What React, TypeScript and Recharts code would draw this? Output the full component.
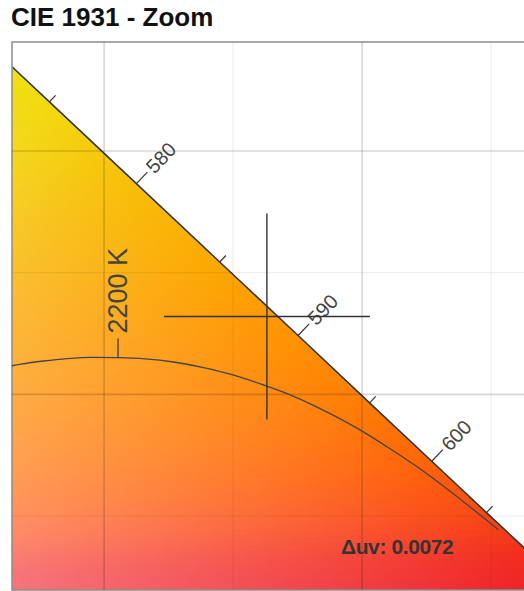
import React from 'react';
import { ComposedChart, XAxis, YAxis, Area, Line, Scatter, ReferenceLine, ReferenceArea } from 'recharts';

// spectral locus (CIE 1931 2°)
const locusNm = [570, 575, 580, 585, 590, 595, 600, 605, 610, 615];
const locusX = [0.4441, 0.4788, 0.5125, 0.5448, 0.5752, 0.6029, 0.627, 0.6482, 0.6658, 0.6801];
const locusY = [0.5547, 0.5202, 0.4866, 0.4544, 0.4242, 0.3965, 0.3725, 0.3514, 0.334, 0.3197];
const locusColors = ['#ecea12', '#f2da0e', '#f8be06', '#fca800', '#ff9200', '#ff7c02', '#ff6406', '#fa4a12', '#f22c1c', '#ee1c22'];
const tickNm = [575, 580, 585, 590, 595, 600, 605];
const labelNm = [580, 590, 600];

// planckian locus
const planckK = [2700, 2600, 2500, 2400, 2300, 2200, 2100, 2000, 1900, 1800, 1700, 1600, 1500, 1400, 1300, 1200, 1100, 1000];
const planckX = [0.4593, 0.4677, 0.4765, 0.4857, 0.4953, 0.5054, 0.516, 0.5269, 0.5381, 0.5496, 0.5609, 0.5728, 0.5857, 0.5985, 0.6116, 0.6251, 0.6388, 0.6528];
const planckY = [0.4107, 0.4124, 0.4137, 0.4147, 0.4152, 0.4151, 0.4146, 0.4133, 0.4111, 0.4081, 0.4042, 0.3995, 0.3931, 0.3858, 0.3771, 0.3674, 0.3563, 0.3444];
const cctK = 2200;

// measured point
const pointX = [0.5631];
const pointY = [0.432];
const duv = 0.0072;

const majorX = [0.5, 0.6];
const minorX = [0.55, 0.65];
const majorY = [0.4, 0.5];
const minorY = [0.35, 0.45];

const whitePoint = { x: 0.3127, y: 0.329 };

const X_MIN = 0.4643, X_MAX = 0.6643, Y_MIN = 0.3196, Y_MAX = 0.5448;
const PLOT_W = 516, PLOT_H = 548;
const MARGIN = { top: 1, right: 0, bottom: 1, left: 1 };
const FONT = '"Liberation Sans", Arial, Helvetica, sans-serif';

const locusData = locusNm.map((nm, i) => ({ nm, x: locusX[i], y: locusY[i] }));
const planckData = planckK.map((k, i) => ({ k, x: planckX[i], y: planckY[i] }));
const tickData = tickNm.map((nm) => {
  const i = locusNm.indexOf(nm);
  return { nm, x: locusX[i], y: locusY[i], labeled: labelNm.includes(nm) };
});
const cctData = [{ k: cctK, x: planckX[planckK.indexOf(cctK)], y: planckY[planckK.indexOf(cctK)] }];
const pointData = pointX.map((x, i) => ({ x, y: pointY[i] }));

// ---- fill pattern (chromaticity colours fanned around the white point) ----
const toPx = (x: number) => MARGIN.left + ((x - X_MIN) / (X_MAX - X_MIN)) * PLOT_W;
const toPy = (y: number) => MARGIN.top + ((Y_MAX - y) / (Y_MAX - Y_MIN)) * PLOT_H;
const wpx = toPx(whitePoint.x);
const wpy = toPy(whitePoint.y);

const hex = (c: string) => [1, 3, 5].map((o) => parseInt(c.slice(o, o + 2), 16));
const rgb = (a: number[]) => `rgb(${a.map((v) => Math.round(v)).join(',')})`;
const mix = (a: number[], b: number[], t: number) => a.map((v, i) => v + (b[i] - v) * t);

const polar = locusData.map((p, i) => {
  const px = toPx(p.x), py = toPy(p.y);
  return { a: (Math.atan2(wpy - py, px - wpx) * 180) / Math.PI, d: Math.hypot(px - wpx, py - wpy), c: hex(locusColors[i]) };
});

const hueAt = (a: number) => {
  if (a >= polar[0].a) return polar[0];
  const last = polar[polar.length - 1];
  if (a <= last.a) return last;
  for (let i = 0; i < polar.length - 1; i++) {
    const p = polar[i], q = polar[i + 1];
    if (a <= p.a && a >= q.a) {
      const t = (p.a - a) / (p.a - q.a);
      return { a, d: p.d + (q.d - p.d) * t, c: mix(p.c, q.c, t) };
    }
  }
  return last;
};

const PALE = hex('#ffc4c8');
const wedges: { pts: string; x2: number; y2: number; c0: string; c1: string }[] = [];
for (let a = -12; a <= 64; a += 0.5) {
  const am = a + 0.25;
  const h = hueAt(am);
  const r = 1500;
  const r0 = (a * Math.PI) / 180, r1 = ((a + 0.8) * Math.PI) / 180, rm = (am * Math.PI) / 180;
  wedges.push({
    pts: `${wpx},${wpy} ${wpx + r * Math.cos(r0)},${wpy - r * Math.sin(r0)} ${wpx + r * Math.cos(r1)},${wpy - r * Math.sin(r1)}`,
    x2: wpx + h.d * Math.cos(rm),
    y2: wpy - h.d * Math.sin(rm),
    c0: rgb(mix(h.c, PALE, 0.9)),
    c1: rgb(h.c),
  });
}

const WavelengthTick = (props: any) => {
  const { cx, cy, payload } = props;
  const nx = 0.69, ny = -0.724;
  const len = payload.labeled ? 16 : 9;
  const tx = cx + nx * 19, ty = cy + ny * 19;
  return (
    <g>
      <line x1={cx} y1={cy} x2={cx + nx * len} y2={cy + ny * len} stroke="#333" strokeWidth={1.2} />
      {payload.labeled && (
        <text x={tx} y={ty} transform={`rotate(-46.4 ${tx} ${ty})`} fontSize={20} fill="#444" dominantBaseline="central" fontFamily={FONT}>
          {payload.nm}
        </text>
      )}
    </g>
  );
};

const CctTick = (props: any) => {
  const { cx, cy, payload } = props;
  const ty = cy - 24;
  return (
    <g>
      <line x1={cx} y1={cy} x2={cx} y2={cy - 19} stroke="#333" strokeWidth={1.2} />
      <text x={cx} y={ty} transform={`rotate(-90 ${cx} ${ty})`} fontSize={27} fill="#444" dominantBaseline="central" fontFamily={FONT}>
        {`${payload.k} K`}
      </text>
    </g>
  );
};

const Crosshair = (props: any) => {
  const { cx, cy } = props;
  return (
    <g stroke="#333" strokeWidth={1.4}>
      <line x1={cx - 103} y1={cy} x2={cx + 103} y2={cy} />
      <line x1={cx} y1={cy - 103} x2={cx} y2={cy + 103} />
    </g>
  );
};

export default function App() {
  return (
    <div style={{ position: 'fixed', left: 0, top: 0, width: 524, height: 591, overflow: 'hidden', background: '#fff', fontFamily: FONT }}>
      <div style={{ position: 'absolute', left: 11, top: 5, fontSize: 26, lineHeight: '25px', fontWeight: 700, color: '#111', whiteSpace: 'nowrap' }}>
        CIE 1931 - Zoom
      </div>
      <div style={{ position: 'absolute', left: 11, top: 41 }}>
        <ComposedChart width={PLOT_W + MARGIN.left + MARGIN.right} height={PLOT_H + MARGIN.top + MARGIN.bottom} margin={MARGIN}>
          <defs>
            {wedges.map((w, i) => (
              <linearGradient key={i} id={`w${i}`} gradientUnits="userSpaceOnUse" x1={wpx} y1={wpy} x2={w.x2} y2={w.y2}>
                <stop offset="0" stopColor={w.c0} />
                <stop offset="1" stopColor={w.c1} />
              </linearGradient>
            ))}
            <pattern id="cieFill" patternUnits="userSpaceOnUse" x="0" y="0" width="700" height="700">
              {wedges.map((w, i) => (
                <polygon key={i} points={w.pts} fill={`url(#w${i})`} />
              ))}
            </pattern>
          </defs>
          <XAxis dataKey="x" type="number" domain={[X_MIN, X_MAX]} allowDataOverflow hide />
          <YAxis dataKey="y" type="number" domain={[Y_MIN, Y_MAX]} allowDataOverflow hide />
          <Area
            data={locusData}
            dataKey="y"
            type="linear"
            stroke="#333"
            strokeWidth={1.5}
            fill="url(#cieFill)"
            fillOpacity={1}
            dot={false}
            activeDot={false}
            isAnimationActive={false}
          />
          {majorX.map((v) => (
            <ReferenceLine key={`mx${v}`} x={v} stroke="rgba(0,0,0,0.16)" strokeWidth={1.6} />
          ))}
          {minorX.map((v) => (
            <ReferenceLine key={`nx${v}`} x={v} stroke="rgba(0,0,0,0.065)" strokeWidth={1.2} />
          ))}
          {majorY.map((v) => (
            <ReferenceLine key={`my${v}`} y={v} stroke="rgba(0,0,0,0.16)" strokeWidth={1.6} />
          ))}
          {minorY.map((v) => (
            <ReferenceLine key={`ny${v}`} y={v} stroke="rgba(0,0,0,0.065)" strokeWidth={1.2} />
          ))}
          <Line
            data={planckData}
            dataKey="y"
            type="monotone"
            stroke="#444"
            strokeWidth={1.3}
            dot={false}
            activeDot={false}
            isAnimationActive={false}
          />
          <Scatter data={tickData} dataKey="y" shape={WavelengthTick} isAnimationActive={false} />
          <Scatter data={cctData} dataKey="y" shape={CctTick} isAnimationActive={false} />
          <Scatter data={pointData} dataKey="y" shape={Crosshair} isAnimationActive={false} />
          <ReferenceArea x1={X_MIN} x2={X_MAX} y1={Y_MIN} y2={Y_MAX} fill="none" stroke="#8c8c8c" strokeWidth={1.5} />
        </ComposedChart>
      </div>
      <div style={{ position: 'absolute', left: 341, top: 537, fontSize: 21, lineHeight: '20px', fontWeight: 700, color: '#333', whiteSpace: 'nowrap', letterSpacing: -0.4 }}>
        {`Δuv: ${duv.toFixed(4)}`}
      </div>
    </div>
  );
}
